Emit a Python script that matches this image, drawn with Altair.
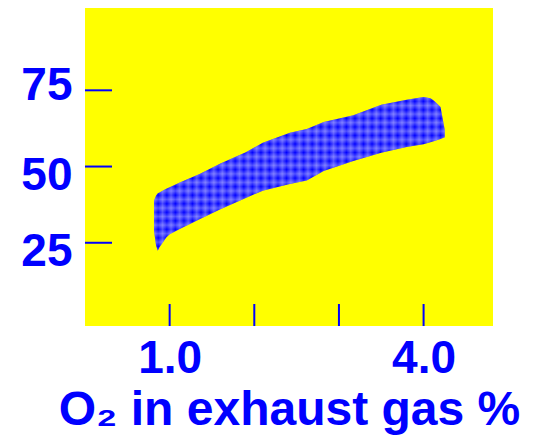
import altair as alt
import pandas as pd

# Band of values (O2 % vs. value)
x_o2 = [0.815, 0.84, 0.86, 0.88, 0.96, 1.0, 1.12, 1.36, 1.6, 1.9, 2.1, 2.42,
        2.62, 2.82, 3.17, 3.5, 3.8, 4.0, 4.08, 4.12, 4.2, 4.25]
upper = [38.8, 40.5, 41.2, 41.5, 42.7, 43.2, 44.8, 47.6, 51.0, 54.7, 57.8, 61.1,
         62.3, 64.6, 66.8, 70.3, 71.9, 72.8, 72.4, 71.7, 69.5, 62.0]
lower = [28.9, 24.0, 22.4, 23.5, 26.7, 27.8, 29.5, 32.8, 36.0, 39.7, 42.1, 44.3,
         45.4, 48.5, 51.8, 54.5, 56.4, 57.3, 58.0, 58.3, 59.0, 59.6]

y_ticks = [25, 50, 75]
x_ticks = [1, 2, 3, 4]
x_labels = [1, 4]

W, H = 408, 318
BLUE = "#0000ff"
FONT = "Liberation Sans"

df = pd.DataFrame({"o2": x_o2, "hi": upper, "lo": lower})
xs = alt.Scale(domain=[0, 4.82], nice=False, zero=False)
ys = alt.Scale(domain=[-2.3, 102], nice=False, zero=False)

x_axis = alt.Axis(values=x_labels, format=".1f", ticks=False, domain=False,
                  grid=False, labelFontSize=46, labelFontWeight="bold",
                  labelColor=BLUE, labelFont=FONT, labelPadding=10,
                  title="O₂ in exhaust gas %", titleFontSize=48,
                  titleFontWeight="bold", titleColor=BLUE, titleFont=FONT,
                  titlePadding=5)
y_axis = alt.Axis(values=y_ticks, ticks=False, domain=False, grid=False,
                  labelFontSize=46, labelFontWeight="bold", labelColor=BLUE,
                  labelFont=FONT, labelPadding=13, title=None,
                  labelOffset={"condition": {"test": "datum.value == 75", "value": -5},
                               "value": 9})


def stripes(n, vertical, alpha):
    stops = []
    for k in range(n):
        stops.append(alt.GradientStop(color=f"rgba(255,255,255,{alpha})", offset=k / n))
        stops.append(alt.GradientStop(color="rgba(255,255,255,0)", offset=(k + 0.5) / n))
    stops.append(alt.GradientStop(color=f"rgba(255,255,255,{alpha})", offset=1))
    if vertical:
        return alt.LinearGradient(gradient="linear", stops=stops, x1=0, x2=1, y1=0, y2=0)
    return alt.LinearGradient(gradient="linear", stops=stops, x1=0, x2=0, y1=0, y2=1)


enc = dict(
    x=alt.X("o2:Q", scale=xs, axis=x_axis),
    y=alt.Y("hi:Q", scale=ys, axis=y_axis),
    y2="lo:Q",
)

base = alt.Chart(df).mark_area(color=BLUE, fill=BLUE).encode(**enc)
vstripes = alt.Chart(df).mark_area(fill=stripes(34, True, 0.3)).encode(**enc)
hstripes = alt.Chart(df).mark_area(fill=stripes(18, False, 0.3)).encode(**enc)

yt = alt.Chart(pd.DataFrame({"v": y_ticks})).mark_rule(color=BLUE, strokeWidth=2).encode(
    y=alt.Y("v:Q", scale=ys, axis=y_axis), x=alt.value(0), x2=alt.value(27))
xt = alt.Chart(pd.DataFrame({"v": x_ticks})).mark_rule(color=BLUE, strokeWidth=2).encode(
    x=alt.X("v:Q", scale=xs, axis=x_axis), y=alt.value(H - 22), y2=alt.value(H))

chart = alt.layer(base, vstripes, hstripes, yt, xt).properties(
    width=W, height=H,
    autosize=alt.AutoSizeParams(type="none"),
    padding={"left": 77, "top": 0, "right": 30, "bottom": 110},
).configure_view(fill="#ffff00", strokeWidth=0)

chart.save("out.html", embed_options={"renderer": "svg", "actions": False})
